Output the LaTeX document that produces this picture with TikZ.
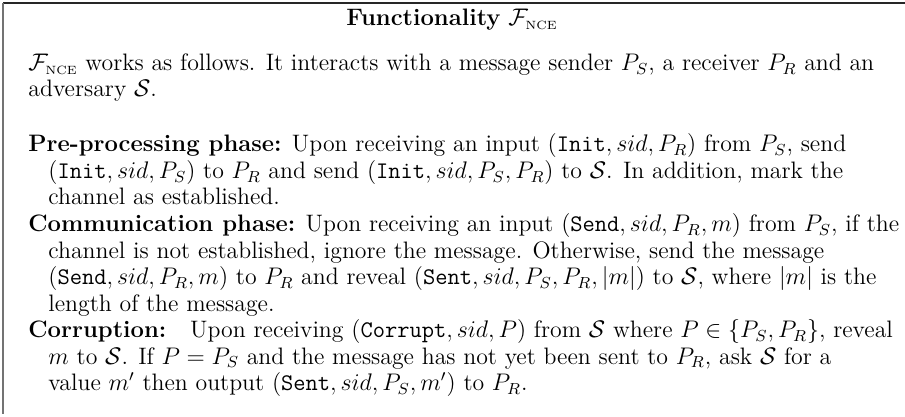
\documentclass[tikz,border=0pt]{standalone}
\usepackage{amsmath}
\newcommand{\Fnce}{\mathcal{F}_{\mbox{\fontsize{6}{7}\selectfont NCE}}}
\newcommand{\Sadv}{\mathcal{S}}
\begin{document}
\begin{tikzpicture}[x=0.5pt,y=-0.5pt,
  txt/.style={anchor=base west, inner sep=0pt, text height=8.2pt, text depth=2.8pt,
    font=\fontsize{11.9}{13.4}\selectfont},
  frame/.style={line width=0.8pt, black!85},
  sideframe/.style={line width=0.6pt, black!55}]
\useasboundingbox (0,0) rectangle (905,417);
% frame of the box: rule on top, rule down the left side
\coordinate (tl) at (3,3);
\coordinate (tr) at (905,3);
\coordinate (bl) at (3,414);
\draw[frame] (tl) -- (tr);
\draw[sideframe] (tl) -- (bl);
% heading
\node[anchor=base, inner sep=0pt, font=\fontsize{11.9}{13.4}\selectfont] (title) at (452,26)
  {\textbf{Functionality} $\Fnce$};
% introduction
\node[txt] (i1) at (28,71) {$\Fnce$ works as follows. It interacts with a message sender $P_S$, a receiver $P_R$ and an};
\node[txt] (i2) at (28,97) {adversary $\Sadv$.};
% pre-processing phase
\node[txt] (p1) at (28,152) {\textbf{Pre-processing phase:} Upon receiving an input $(\texttt{Init}, sid, P_R)$ from $P_S$, send};
\node[txt] (p2) at (48,178.5) {$(\texttt{Init}, sid, P_S)$ to $P_R$ and send $(\texttt{Init}, sid, P_S, P_R)$ to $\Sadv$. In addition, mark the};
\node[txt] (p3) at (48,205) {channel as established.};
% communication phase
\node[txt] (c1) at (28,231.5) {\textbf{Communication phase:} Upon receiving an input $(\texttt{Send}, sid, P_R, m)$ from $P_S$, if the};
\node[txt] (c2) at (48,258) {channel is not established, ignore the message. Otherwise, send the message};
\node[txt] (c3) at (48,284.5) {$(\texttt{Send}, sid, P_R, m)$ to $P_R$ and reveal $(\texttt{Sent}, sid, P_S, P_R, |m|)$ to $\Sadv$, where $|m|$ is the};
\node[txt] (c4) at (48,311) {length of the message.};
% corruption
\node[txt] (r1) at (28,337.5) {\textbf{Corruption:}\quad Upon receiving $(\texttt{Corrupt}, sid, P)$ from $\Sadv$ where $P \in \{P_S, P_R\}$, reveal};
\node[txt] (r2) at (48,364) {$m$ to $\Sadv$. If $P = P_S$ and the message has not yet been sent to $P_R$, ask $\Sadv$ for a};
\node[txt] (r3) at (48,390.5) {value $m'$ then output $(\texttt{Sent}, sid, P_S, m')$ to $P_R$.};
\end{tikzpicture}
\end{document}
